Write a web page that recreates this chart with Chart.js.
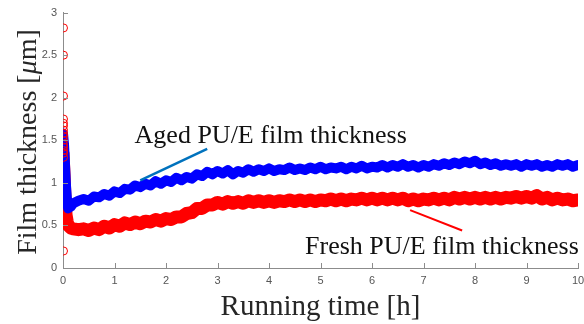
<!DOCTYPE html>
<html>
<head>
<meta charset="utf-8">
<script src="https://cdn.jsdelivr.net/npm/chart.js@4.4.0/dist/chart.umd.min.js"></script>
<style>
  body { margin: 0; background: #fff; }
  #wrap { width: 584px; height: 324px; }
</style>
</head>
<body>
<div id="wrap"><canvas id="thicknessChart" width="584" height="324"></canvas></div>
<script>
// running time [h]
var timeH = [0, 0.02, 0.04, 0.06, 0.08, 0.1, 0.15, 0.2, 0.3,
  0.4, 0.5, 0.6, 0.7, 0.8, 0.9, 1.0, 1.1, 1.2, 1.3,
  1.4, 1.5, 1.6, 1.7, 1.8, 1.9, 2.0, 2.1, 2.2, 2.3,
  2.4, 2.5, 2.6, 2.7, 2.8, 2.9, 3.0, 3.1, 3.2, 3.3,
  3.4, 3.5, 3.6, 3.7, 3.8, 3.9, 4.0, 4.1, 4.2, 4.3,
  4.4, 4.5, 4.6, 4.7, 4.8, 4.9, 5.0, 5.1, 5.2, 5.3,
  5.4, 5.5, 5.6, 5.7, 5.8, 5.9, 6.0, 6.1, 6.2, 6.3,
  6.4, 6.5, 6.6, 6.7, 6.8, 6.9, 7.0, 7.1, 7.2, 7.3,
  7.4, 7.5, 7.6, 7.7, 7.8, 7.9, 8.0, 8.1, 8.2, 8.3,
  8.4, 8.5, 8.6, 8.7, 8.8, 8.9, 9.0, 9.1, 9.2, 9.3,
  9.4, 9.5, 9.6, 9.7, 9.8, 9.9, 10.0];

// aged PU/E film thickness [um]
var agedThickness = [1.58, 1.45, 1.2, 0.95, 0.78, 0.70, 0.72, 0.76, 0.79,
  0.81, 0.79, 0.84, 0.83, 0.87, 0.85, 0.90, 0.88, 0.93, 0.92,
  0.97, 0.95, 0.99, 0.97, 1.02, 0.99, 1.03, 1.01, 1.06, 1.03,
  1.07, 1.05, 1.10, 1.08, 1.13, 1.10, 1.14, 1.11, 1.15, 1.10,
  1.14, 1.12, 1.16, 1.13, 1.16, 1.14, 1.17, 1.14, 1.16, 1.15,
  1.18, 1.15, 1.17, 1.15, 1.18, 1.16, 1.19, 1.16, 1.18, 1.17,
  1.19, 1.16, 1.19, 1.17, 1.20, 1.17, 1.19, 1.18, 1.21, 1.18,
  1.21, 1.19, 1.22, 1.19, 1.21, 1.18, 1.21, 1.19, 1.22, 1.20,
  1.23, 1.21, 1.24, 1.22, 1.25, 1.23, 1.26, 1.22, 1.24, 1.21,
  1.23, 1.20, 1.22, 1.20, 1.22, 1.19, 1.22, 1.20, 1.22, 1.19,
  1.21, 1.19, 1.22, 1.20, 1.22, 1.19, 1.21];

// fresh PU/E film thickness [um]
var freshThickness = [1.35, 1.1, 0.8, 0.62, 0.55, 0.50, 0.47, 0.46, 0.45,
  0.46, 0.44, 0.47, 0.45, 0.49, 0.47, 0.51, 0.49, 0.53, 0.51,
  0.54, 0.52, 0.55, 0.54, 0.57, 0.55, 0.58, 0.57, 0.60, 0.60,
  0.64, 0.65, 0.70, 0.70, 0.74, 0.74, 0.77, 0.75, 0.78, 0.76,
  0.78, 0.76, 0.79, 0.77, 0.79, 0.77, 0.79, 0.77, 0.79, 0.78,
  0.80, 0.78, 0.80, 0.78, 0.80, 0.78, 0.80, 0.79, 0.81, 0.79,
  0.81, 0.79, 0.81, 0.80, 0.82, 0.80, 0.82, 0.80, 0.82, 0.80,
  0.82, 0.80, 0.82, 0.79, 0.81, 0.79, 0.81, 0.80, 0.82, 0.80,
  0.82, 0.80, 0.83, 0.81, 0.83, 0.81, 0.83, 0.81, 0.83, 0.81,
  0.83, 0.81, 0.83, 0.82, 0.84, 0.82, 0.84, 0.82, 0.85, 0.81,
  0.83, 0.80, 0.82, 0.80, 0.81, 0.79, 0.80];

// first readings at t = 0 (circles)
var startTime = [0.01, 0.01, 0.01, 0.01, 0.01, 0.01, 0.01, 0.01, 0.01, 0.01, 0.01, 0.01, 0.01, 0.01, 0.01, 0.01];
var startThickness = [2.82, 2.5, 2.02, 1.75, 1.70, 1.67, 1.62, 1.58, 1.55, 1.50, 1.45, 1.42, 1.38, 1.35, 1.30, 0.2];

// pointer lines for the two labels
var agedPointerX = [1.5, 2.8];
var agedPointerY = [1.03, 1.40];
var freshPointerX = [6.74, 7.75];
var freshPointerY = [0.68, 0.44];

var xTicks = [0, 1, 2, 3, 4, 5, 6, 7, 8, 9, 10];
var yTicks = [0, 0.5, 1, 1.5, 2, 2.5, 3];

function pairs(xs, ys) {
  return xs.map(function (x, i) { return { x: x, y: ys[i] }; });
}

var axisGray = '#8c8c8c';
var serif = '"Liberation Serif", "Times New Roman", serif';

var decorPlugin = {
  id: 'decor',
  afterDraw: function (chart) {
    var ctx = chart.ctx;
    var xs = chart.scales.x, ys = chart.scales.y;
    var area = chart.chartArea;

    // inward tick marks like matlab
    ctx.save();
    ctx.strokeStyle = axisGray;
    ctx.lineWidth = 1;
    ctx.beginPath();
    xTicks.forEach(function (v) {
      var px = Math.round(xs.getPixelForValue(v)) + 0.5;
      ctx.moveTo(px, area.bottom);
      ctx.lineTo(px, area.bottom - 5);
    });
    yTicks.forEach(function (v) {
      var py = Math.round(ys.getPixelForValue(v)) + 0.5;
      ctx.moveTo(area.left, py);
      ctx.lineTo(area.left + 5, py);
    });
    ctx.stroke();

    // series labels
    ctx.fillStyle = '#111';
    ctx.font = '26px ' + serif;
    ctx.textBaseline = 'alphabetic';
    ctx.textAlign = 'left';
    ctx.fillText('Aged PU/E film thickness', xs.getPixelForValue(1.39), ys.getPixelForValue(1.465));
    ctx.fillText('Fresh PU/E film thickness', xs.getPixelForValue(4.70), ys.getPixelForValue(0.16));

    // axis titles
    ctx.fillStyle = '#262626';
    ctx.font = '29px ' + serif;
    ctx.textAlign = 'center';
    ctx.fillText('Running time [h]', (area.left + area.right) / 2, 315);

    ctx.translate(36, 142);
    ctx.rotate(-Math.PI / 2);
    var p1 = 'Film thickness [', p2 = '\u03BC', p3 = 'm]';
    ctx.font = '28px ' + serif;
    var w1 = ctx.measureText(p1).width, w3 = ctx.measureText(p3).width;
    ctx.font = 'italic 28px ' + serif;
    var w2 = ctx.measureText(p2).width;
    var x0 = -(w1 + w2 + w3) / 2;
    ctx.textAlign = 'left';
    ctx.font = '28px ' + serif;
    ctx.fillText(p1, x0, 0);
    ctx.font = 'italic 28px ' + serif;
    ctx.fillText(p2, x0 + w1, 0);
    ctx.font = '28px ' + serif;
    ctx.fillText(p3, x0 + w1 + w2, 0);
    ctx.restore();
  }
};

var ctx = document.getElementById('thicknessChart').getContext('2d');
var thicknessChart = new Chart(ctx, {
  type: 'line',
  data: {
    datasets: [{
      label: 'start circles',
      data: pairs(startTime, startThickness),
      showLine: false,
      pointStyle: 'circle',
      pointRadius: 4,
      pointBorderWidth: 1,
      pointBorderColor: '#ff0000',
      pointBackgroundColor: 'rgba(0,0,0,0)'
    }, {
      label: 'aged pointer',
      data: pairs(agedPointerX, agedPointerY),
      borderColor: '#0072BD',
      borderWidth: 2.5,
      pointRadius: 0
    }, {
      label: 'fresh pointer',
      data: pairs(freshPointerX, freshPointerY),
      borderColor: '#ff0000',
      borderWidth: 2,
      pointRadius: 0
    }, {
      label: 'Aged PU/E film thickness',
      data: pairs(timeH, agedThickness),
      borderColor: '#0000ff',
      borderWidth: 10,
      borderJoinStyle: 'round',
      borderCapStyle: 'round',
      pointRadius: 0,
      tension: 0
    }, {
      label: 'Fresh PU/E film thickness',
      data: pairs(timeH, freshThickness),
      borderColor: '#ff0000',
      borderWidth: 13,
      borderJoinStyle: 'round',
      borderCapStyle: 'round',
      pointRadius: 0,
      tension: 0
    }]
  },
  options: {
    responsive: false,
    animation: false,
    layout: { padding: { top: 12, right: 0, left: 0, bottom: 0 } },
    plugins: { legend: { display: false }, tooltip: { enabled: false } },
    scales: {
      x: {
        type: 'linear',
        min: 0,
        max: 10,
        afterBuildTicks: function (s) { s.ticks = xTicks.map(function (v) { return { value: v }; }); },
        afterFit: function (s) { s.height = 56; s.paddingRight = 6; s.paddingLeft = 0; },
        grid: { drawOnChartArea: false, drawTicks: false },
        border: { color: axisGray, width: 1 },
        ticks: {
          padding: 6, color: '#555', maxRotation: 0,
          font: { family: '"Liberation Sans", Arial', size: 11 },
          callback: function (v) { return String(v); }
        }
      },
      y: {
        type: 'linear',
        min: 0,
        max: 3,
        afterBuildTicks: function (s) { s.ticks = yTicks.map(function (v) { return { value: v }; }); },
        afterFit: function (s) { s.width = 63; },
        grid: { drawOnChartArea: false, drawTicks: false },
        border: { color: axisGray, width: 1 },
        ticks: {
          padding: 6, color: '#555',
          font: { family: '"Liberation Sans", Arial', size: 11 },
          callback: function (v) { return String(v); }
        }
      }
    }
  },
  plugins: [decorPlugin]
});
</script>
</body>
</html>
